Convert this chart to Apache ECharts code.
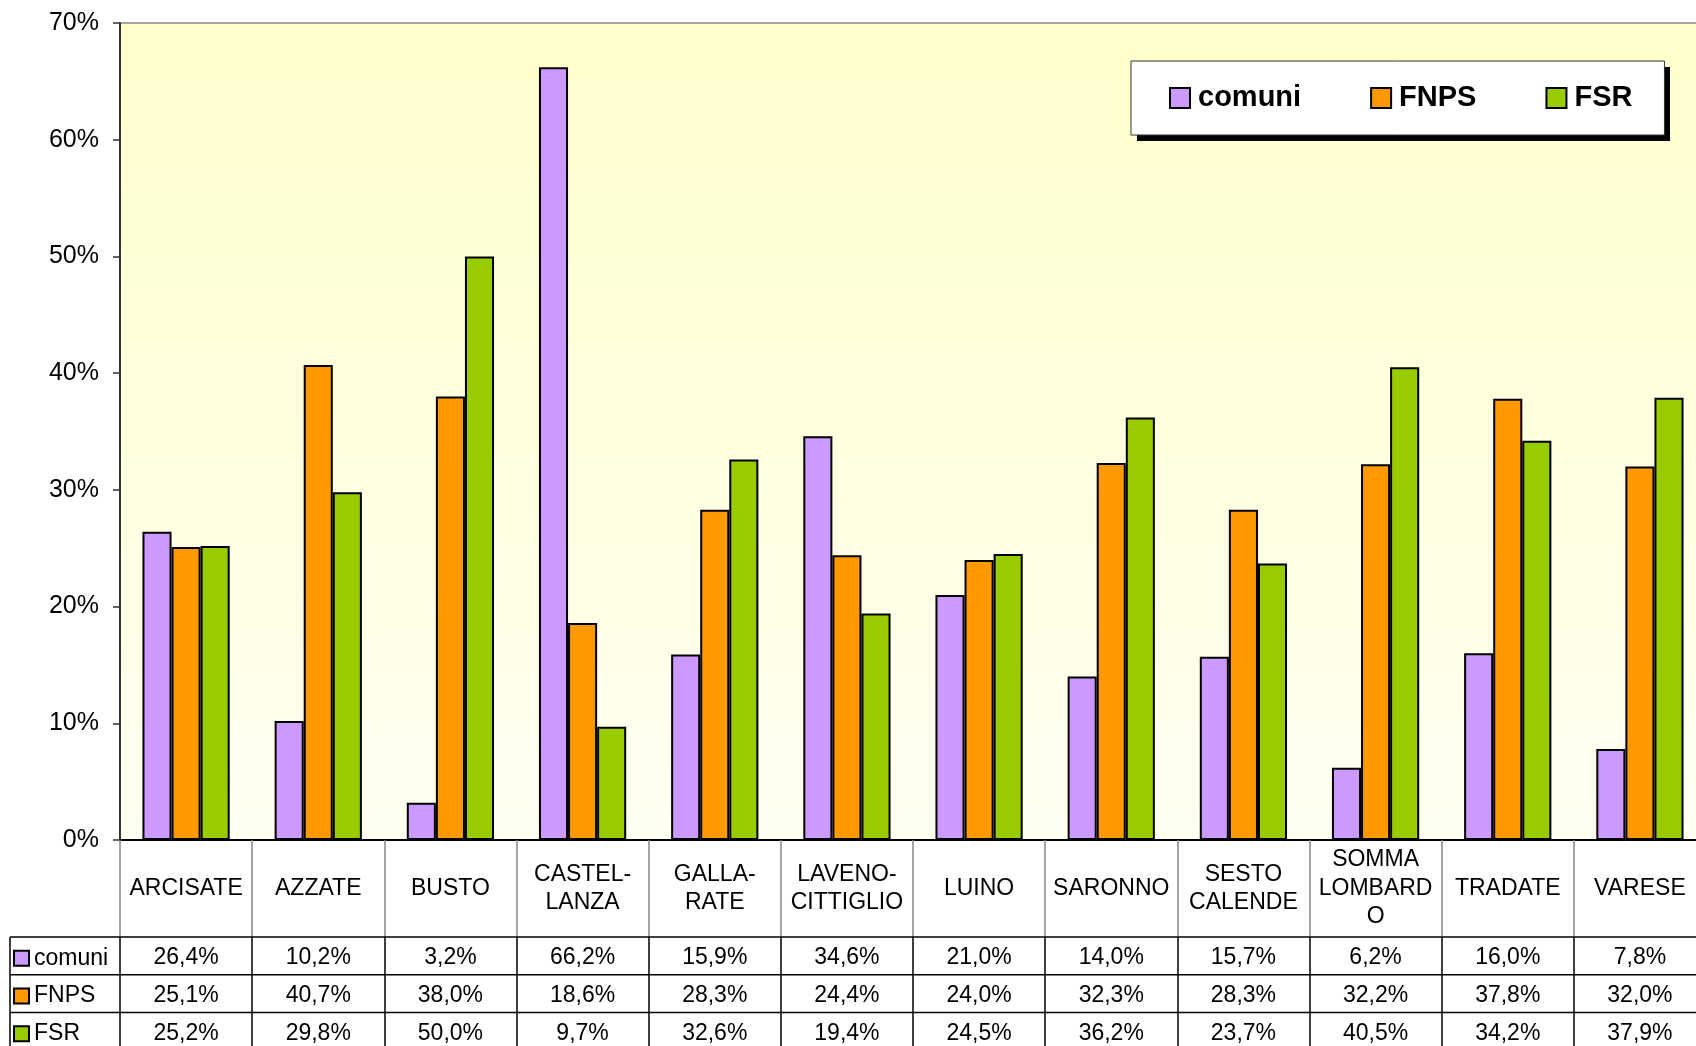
<!DOCTYPE html>
<html>
<head>
<meta charset="utf-8">
<script src="https://cdn.jsdelivr.net/npm/echarts@6/dist/echarts.min.js"></script>
<style>
html,body{margin:0;padding:0;background:#fff;overflow:hidden;}
#c{width:1720px;height:1046px;}
</style>
</head>
<body>
<div id="c"></div>
<script>
const categories = ['ARCISATE','AZZATE','BUSTO','CASTEL-\nLANZA','GALLA-\nRATE','LAVENO-\nCITTIGLIO','LUINO','SARONNO','SESTO\nCALENDE','SOMMA\nLOMBARD\nO','TRADATE','VARESE'];
const seriesNames = ['comuni','FNPS','FSR'];
const comuni = [26.4,10.2,3.2,66.2,15.9,34.6,21.0,14.0,15.7,6.2,16.0,7.8];
const fnps   = [25.1,40.7,38.0,18.6,28.3,24.4,24.0,32.3,28.3,32.2,37.8,32.0];
const fsr    = [25.2,29.8,50.0,9.7,32.6,19.4,24.5,36.2,23.7,40.5,34.2,37.9];
const colors = ['#CC99FF','#FF9900','#99CC00'];
const yTicks = [0,10,20,30,40,50,60,70];

const W = 1720, H = 1046;
const GL = 120, GT = 23, GB = 206, GR = 14;
const axisY = H - GB;           // 840
const catRowH = 97;             // category label row
const rowH = 37.7;              // value rows
const tableLeft = 10;
const FONT = '"Liberation Sans", Arial, sans-serif';
const LEG = {left:1131, top:61, w:533, h:74, shadow:6};

const fmt = v => v.toFixed(1).replace('.', ',') + '%';
const allData = [comuni, fnps, fsr];

const chart = echarts.init(document.getElementById('c'), null, {renderer:'canvas'});

const xAxes = [{
  type:'category', data:categories, gridIndex:0, position:'bottom',
  axisLine:{show:true, lineStyle:{color:'#000', width:2}},
  axisTick:{show:true, length:catRowH, lineStyle:{color:'#888', width:1.5}},
  axisLabel:{fontFamily:FONT, fontSize:23, color:'#000', margin:catRowH/2, verticalAlign:'middle', lineHeight:28.5, interval:0}
}];
allData.forEach((arr, k) => {
  const off = catRowH + k*rowH;
  xAxes.push({
    type:'category', data:categories, gridIndex:0, position:'bottom', offset:off,
    axisLine:{show:false},
    axisTick:{show:true, length:(H - axisY - off) + 5, lineStyle:{color:'#000', width:1.5}},
    axisLabel:{fontFamily:FONT, fontSize:23, color:'#000', margin:rowH/2 + 2, verticalAlign:'middle', interval:0,
      formatter:(v, i) => fmt(arr[i])}
  });
});

const rowLegends = seriesNames.map((n, k) => ({
  data:[n], orient:'horizontal', left:tableLeft + 3,
  top: axisY + catRowH + k*rowH + rowH/2 - 9,
  padding:0, itemWidth:15, itemHeight:15, itemGap:0,
  icon:'rect',
  itemStyle:{borderColor:'#000', borderWidth:2},
  textStyle:{fontFamily:FONT, fontSize:23, color:'#000', lineHeight:22}
}));

const graphics = [];
for (let k = 0; k < 3; k++) {
  const y = axisY + catRowH + k*rowH;
  graphics.push({type:'line', shape:{x1:tableLeft, y1:y, x2:W, y2:y}, style:{stroke:'#000', lineWidth:1.5}, z:10});
}
graphics.push({type:'line', shape:{x1:tableLeft, y1:axisY+catRowH, x2:tableLeft, y2:H}, style:{stroke:'#000', lineWidth:1.5}, z:10});
// drop shadow of the legend box
graphics.push({type:'rect', shape:{x:LEG.left+LEG.shadow, y:LEG.top+LEG.shadow, width:LEG.w, height:LEG.h}, style:{fill:'#000'}, z:3});

chart.setOption({
  animation:false,
  backgroundColor:'#fff',
  textStyle:{fontFamily:FONT},
  grid:{left:GL, top:GT, right:GR, bottom:GB, show:true, borderWidth:1.5, borderColor:'#888',
    backgroundColor:new echarts.graphic.LinearGradient(0,0,0,1,[{offset:0,color:'#FFFFCC'},{offset:1,color:'#FFFFF2'}])},
  legend:[{
    data:seriesNames, left:LEG.left, top:LEG.top, orient:'horizontal', z:6,
    padding:[22.5,32,22.5,38], itemGap:69, itemWidth:20, itemHeight:20, icon:'rect',
    itemStyle:{borderColor:'#000', borderWidth:2},
    backgroundColor:'#fff', borderColor:'#333', borderWidth:1,
    textStyle:{fontFamily:FONT, fontSize:29, fontWeight:'bold', color:'#000', lineHeight:20, padding:[0,0,0,3]}
  }].concat(rowLegends),
  xAxis:xAxes,
  yAxis:{
    type:'value', min:yTicks[0], max:yTicks[yTicks.length-1], interval:10,
    axisLine:{show:true, lineStyle:{color:'#333', width:2}},
    axisTick:{show:true, length:7, lineStyle:{color:'#333', width:1.5}},
    splitLine:{show:false},
    axisLabel:{fontFamily:FONT, fontSize:25, color:'#000', margin:21, formatter:'{value}%'}
  },
  series:seriesNames.map((n, k) => ({
    name:n, type:'bar', data:allData[k], xAxisIndex:0,
    barGap:'0%', barCategoryGap:'34%',
    itemStyle:{color:colors[k], borderColor:'#000', borderWidth:2}
  })),
  graphic:graphics
});
</script>
</body>
</html>
